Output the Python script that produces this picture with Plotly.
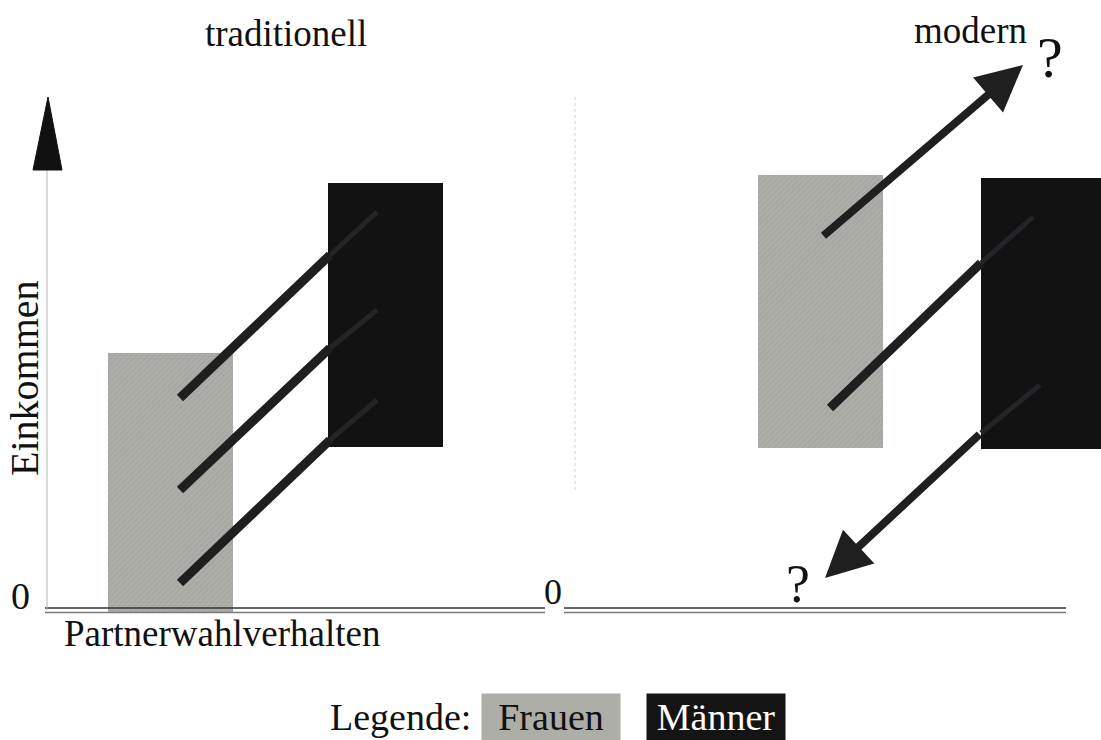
import plotly.graph_objects as go

# ---- data (income units: 0 = baseline, 1 unit ~ 1 px upward) ----
regimes = ["traditionell", "modern"]
frauen_left = [108, 758]
frauen_right = [233, 883]
frauen_low = [-3, 162]
frauen_high = [257, 435]
maenner_left = [328, 981]
maenner_right = [443, 1101]
maenner_low = [163, 161]
maenner_high = [427, 432]

# traditional links (no heads)
trad_x0 = [180, 180, 180]
trad_y0 = [212, 120, 27]
trad_x1 = [330, 330, 330]
trad_y1 = [355, 262, 170]
# faint continuation inside the black box
trad_x2 = [377, 377, 377]
trad_y2 = [398, 300, 210]

# modern arrows / links
mod_line_x = [830, 981]
mod_line_y = [202, 347]
mod_faint_x = [[981, 1033], [981, 1040]]
mod_faint_y = [[347, 393], [177, 225]]
arrow_tail_x = [822, 981]
arrow_tail_y = [373, 177]
arrow_head_x = [1023, 825]
arrow_head_y = [545, 32]

SERIF = "Liberation Serif, Times New Roman, serif"
GRAY = "#adaea7"
DARK = "#1f1f1f"
FAINT = "#252428"

fig = go.Figure()

def ctr(l, r):
    return [(a + b) / 2 for a, b in zip(l, r)]

def wid(l, r):
    return [b - a for a, b in zip(l, r)]

fig.add_trace(go.Bar(
    x=ctr(frauen_left, frauen_right), width=wid(frauen_left, frauen_right),
    base=frauen_low, y=[h - l for h, l in zip(frauen_high, frauen_low)],
    marker=dict(color=GRAY, line=dict(width=0),
                pattern=dict(shape="/", fgcolor="#9a929f", bgcolor=GRAY, size=4, solidity=0.25)),
    name="Frauen", showlegend=False, hoverinfo="skip"))
fig.add_trace(go.Bar(
    x=ctr(maenner_left, maenner_right), width=wid(maenner_left, maenner_right),
    base=maenner_low, y=[h - l for h, l in zip(maenner_high, maenner_low)],
    marker=dict(color="#121212", line=dict(width=0)),
    name="Männer", showlegend=False, hoverinfo="skip"))

# baseline double lines
for xs in ([45, 545], [564, 1066]):
    fig.add_trace(go.Scatter(x=xs, y=[2, 2], mode="lines", line=dict(color="#333333", width=1.6),
                             showlegend=False, hoverinfo="skip"))
    fig.add_trace(go.Scatter(x=xs, y=[-2.5, -2.5], mode="lines", line=dict(color="#7a7a7a", width=1.6),
                             showlegend=False, hoverinfo="skip"))

# y axis line + arrowhead
fig.add_trace(go.Scatter(x=[47, 47], y=[0, 440], mode="lines", line=dict(color="#b5b5b5", width=1),
                         showlegend=False, hoverinfo="skip"))
fig.add_trace(go.Scatter(x=[33, 48, 62, 33], y=[440, 513, 440, 440], mode="lines", fill="toself",
                         fillcolor="#111111", line=dict(color="#111111", width=1),
                         showlegend=False, hoverinfo="skip"))

# middle divider
fig.add_trace(go.Scatter(x=[575, 575], y=[120, 515], mode="lines",
                         line=dict(color="#d2d2d2", width=1, dash="dot"),
                         showlegend=False, hoverinfo="skip"))

# traditional links
for x0, y0, x1, y1, x2, y2 in zip(trad_x0, trad_y0, trad_x1, trad_y1, trad_x2, trad_y2):
    fig.add_trace(go.Scatter(x=[x1, x2], y=[y1, y2], mode="lines",
                             line=dict(color=FAINT, width=5), showlegend=False, hoverinfo="skip"))
    fig.add_trace(go.Scatter(x=[x0, x1], y=[y0, y1], mode="lines",
                             line=dict(color=DARK, width=9), showlegend=False, hoverinfo="skip"))

for fx, fy in zip(mod_faint_x, mod_faint_y):
    fig.add_trace(go.Scatter(x=fx, y=fy, mode="lines",
                             line=dict(color=FAINT, width=5), showlegend=False, hoverinfo="skip"))

fig.add_trace(go.Scatter(x=mod_line_x, y=mod_line_y, mode="lines",
                         line=dict(color=DARK, width=9), showlegend=False, hoverinfo="skip"))

annotations = []
for tx, ty, hx, hy in zip(arrow_tail_x, arrow_tail_y, arrow_head_x, arrow_head_y):
    annotations.append(dict(x=hx, y=hy, ax=tx, ay=ty, xref="x", yref="y", axref="x", ayref="y",
                            showarrow=True, arrowhead=2, arrowsize=1.15, arrowwidth=8,
                            arrowcolor=DARK, text=""))

def txt(s, x, y, size=37, color="#111111", **kw):
    d = dict(text=s, x=x, y=y, xref="x", yref="y", showarrow=False,
             font=dict(family=SERIF, size=size, color=color))
    d.update(kw)
    annotations.append(d)

BASE = 610  # pixel row of baseline for converting label positions
txt(regimes[0], 286, BASE - 33)
txt(regimes[1], 970, BASE - 30)
txt("?", 1050, BASE - 57, size=58)
txt("?", 798, BASE - 584, size=54)
txt("Einkommen", 24, BASE - 378, size=40, textangle=-90)
txt("0", 20, BASE - 596, size=38)
txt("0", 553, BASE - 592, size=36)
txt("Partnerwahlverhalten", 222, BASE - 633)
txt("Legende:", 400, BASE - 717, size=38)
txt("Frauen", 551, BASE - 717, size=38, bgcolor=GRAY, width=136, height=44)
txt("Männer", 716, BASE - 717, size=38, color="white", bgcolor="#141414", width=136, height=44)

fig.update_layout(
    width=1101, height=740, margin=dict(l=0, r=0, t=0, b=0),
    paper_bgcolor="white", plot_bgcolor="white",
    barmode="overlay", annotations=annotations,
    xaxis=dict(range=[0, 1101], visible=False, fixedrange=True),
    yaxis=dict(range=[BASE - 740, BASE], visible=False, fixedrange=True),
)

fig.write_html("out.html", config={"displayModeBar": False},
               post_script="document.body.style.margin='0';document.body.style.overflow='hidden';")
